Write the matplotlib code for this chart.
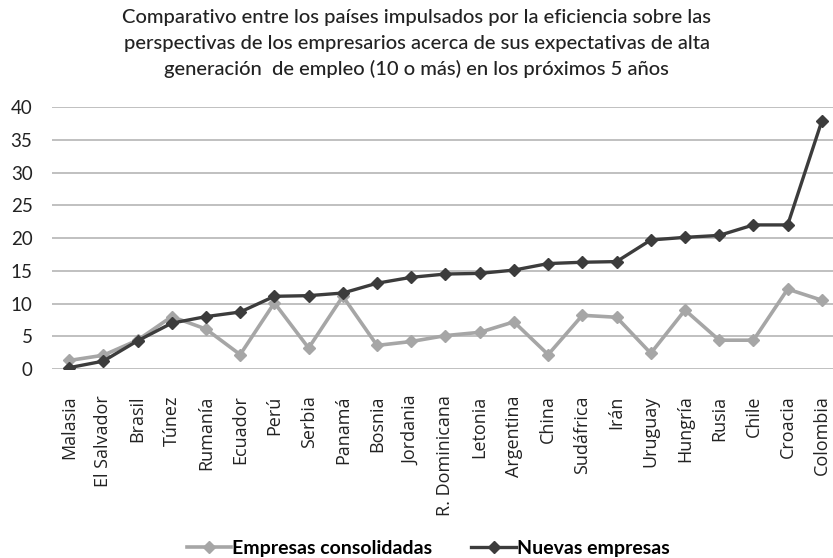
import matplotlib
matplotlib.use("Agg")
import matplotlib.pyplot as plt

plt.rcParams['font.family'] = ['Lato', 'DejaVu Sans']

countries = ["Malasia", "El Salvador", "Brasil", "Túnez", "Rumanía", "Ecuador",
             "Perú", "Serbia", "Panamá", "Bosnia", "Jordania", "R. Dominicana",
             "Letonia", "Argentina", "China", "Sudáfrica", "Irán", "Uruguay",
             "Hungría", "Rusia", "Chile", "Croacia", "Colombia"]
consolidadas = [1.3, 2.1, 4.4, 8.0, 6.1, 2.2, 10.1, 3.2, 11.1, 3.6, 4.2, 5.1,
                5.6, 7.2, 2.2, 8.2, 7.9, 2.4, 9.0, 4.4, 4.4, 12.2, 10.5]
nuevas = [0.2, 1.2, 4.3, 7.0, 8.0, 8.7, 11.1, 11.2, 11.6, 13.1, 14.0, 14.5,
          14.6, 15.1, 16.1, 16.3, 16.4, 19.7, 20.1, 20.4, 22.0, 22.0, 37.9]
yticks = [0, 5, 10, 15, 20, 25, 30, 35, 40]

title = ("Comparativo entre los países impulsados por la eficiencia sobre las\n"
         "perspectivas de los empresarios acerca de sus expectativas de alta\n"
         "generación  de empleo (10 o más) en los próximos 5 años")

fig = plt.figure(figsize=(8.33, 5.58), dpi=100)
ax = fig.add_axes([0.0624, 0.3387, 0.9448, 0.4695])

x = range(len(countries))
ax.plot(x, consolidadas, color="#a6a6a6", linewidth=2.6, marker="D",
        markersize=6.5, label="Empresas consolidadas", zorder=3)
ax.plot(x, nuevas, color="#3c3c3c", linewidth=2.4, marker="D",
        markersize=6.5, label="Nuevas empresas", zorder=4)

ax.set_xlim(-0.5, len(countries) - 0.5)
ax.set_ylim(0, 40)
ax.set_yticks(yticks)
ax.set_xticks(list(x))
ax.set_xticklabels(countries, rotation=90, fontsize=13, color="#222222",
                   family=["Open Sans", "DejaVu Sans"])
ax.tick_params(axis="y", labelsize=13.5, length=0, pad=14, labelcolor="#222222")
ax.tick_params(axis="x", length=0, pad=19)
ax.yaxis.grid(True, color="#b5b5b5", linewidth=1.2)
ax.set_axisbelow(True)
for s in ax.spines.values():
    s.set_visible(False)

fig.text(0.5, 0.983, title, ha="center", va="top", fontsize=14.5,
         fontweight="medium", linespacing=1.58, color="#222222")

fig.legend(loc="center", bbox_to_anchor=(0.514, 0.017), ncol=2,
           frameon=False, prop={"weight": "bold", "size": 14},
           handlelength=2.3, columnspacing=2.0, handletextpad=0.05)

fig.savefig("out.png", dpi=100)
